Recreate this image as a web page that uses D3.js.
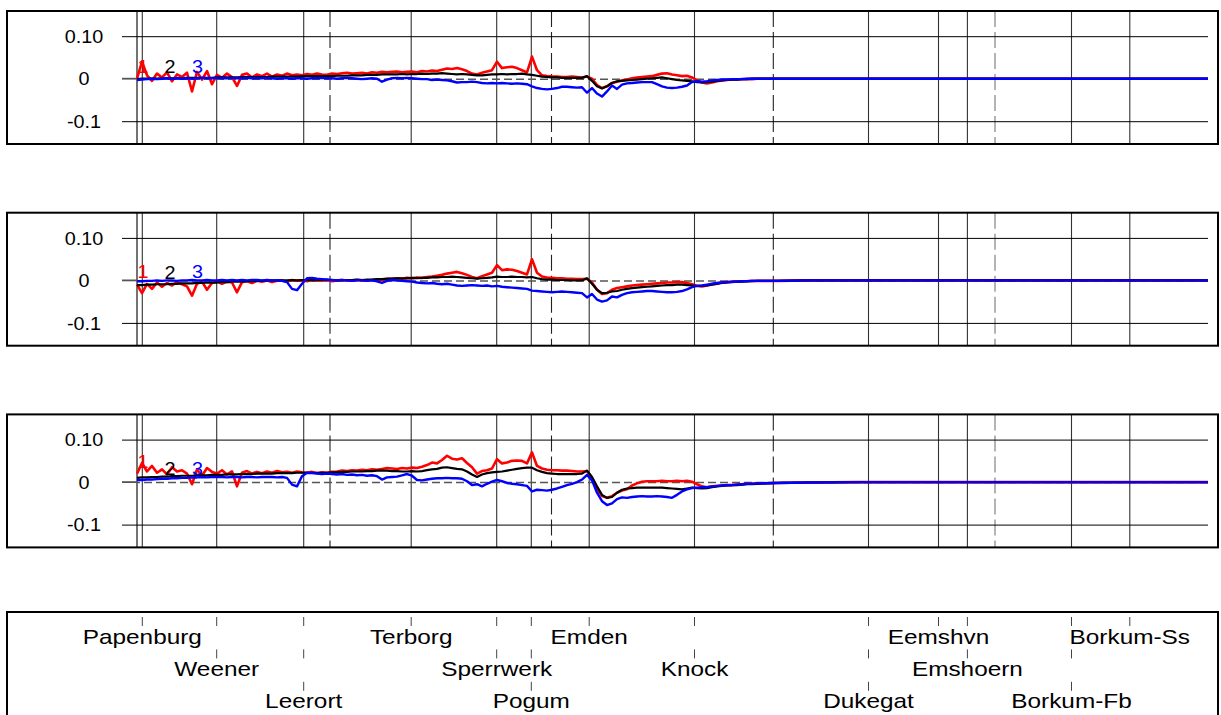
<!DOCTYPE html>
<html>
<head>
<meta charset="utf-8">
<script src="https://cdn.jsdelivr.net/npm/d3@7"></script>
<style>
  html, body { margin: 0; padding: 0; background: #fff; }
  svg { display: block; }
</style>
</head>
<body>
<svg id="chart" width="1221" height="715"></svg>
<script>
// Sample positions along the fairway (km): every 0.5 km up to km 62, coarser seaward
const km = d3.range(0, 62.01, 0.5).concat([64, 67, 72, 80, 90, 100, 107.1]);

// Station names, positions (km) and label row in the station strip
const stationNames = ["Papenburg", "Weener", "Leerort", "Terborg", "Sperrwerk", "Pogum", "Emden",
  "Knock", "Dukegat", "Eemshvn", "Emshoern", "Borkum-Fb", "Borkum-Ss"];
const stationKm = [0.53, 7.97, 16.67, 27.42, 35.97, 39.43, 45.22, 55.75, 73.15, 80.15, 83.04, 93.45, 99.28];
const stationRow = [0, 1, 2, 0, 1, 2, 0, 1, 2, 0, 1, 2, 0];

// Additional section boundaries (km), drawn dashed
const boundaryKm = [19.3, 41.45, 63.63, 85.8];

// Y axis ticks
const yTickValues = [0.1, 0, -0.1];
const yTickLabels = ["0.10", "0", "-0.1"];

// Series names
const seriesNames = ["1", "2", "3"];

// Values in thousandths, one entry per km sample
// Panel 1
const p1s1 = [
  0,40,8,-5,12,3,15,-6,10,4,14,-30,16,-2,18,-13,9,2,12,4,-17,9,12,3,10,
  6,12,5,10,7,12,8,10,8,11,9,12,10,9,12,11,13,14,12,13,14,12,15,14,16,
  15,16,17,15,16,17,15,18,17,19,18,21,24,23,25,22,18,12,10,14,17,20,40,25,27,
  28,25,20,15,52,20,8,6,5,5,4,4,5,4,3,5,0,-15,-22,-18,-10,-7,-4,-2,1,
  3,4,5,6,9,12,13,10,8,6,7,3,-4,-9,-11,-9,-6,-4,-3,-2,-2,-1,-1,-1,0,
  0,0,0,0,0,0,0];
const p1s2 = [
  -1,0,0,0,0,1,1,1,1,1,2,2,2,2,2,2,3,3,3,3,3,4,4,4,4,
  4,4,5,5,5,5,5,5,6,6,6,6,6,6,6,7,7,7,8,8,8,9,9,9,10,
  10,10,10,11,10,11,11,12,11,12,12,13,12,11,10,11,10,9,8,8,9,10,10,11,10,
  11,11,12,10,9,7,5,4,3,3,2,2,2,2,2,6,-5,-18,-23,-18,-10,-6,-5,-4,-3,
  -2,-1,0,1,2,3,1,-1,-3,-4,-5,-6,-8,-9,-8,-7,-5,-4,-3,-2,-2,-1,-1,0,0,
  0,0,0,0,0,0,0];
const p1s3 = [
  -3,-2,-1,0,-1,0,1,0,1,0,1,0,1,2,1,1,2,1,1,2,1,1,2,1,1,
  1,2,1,0,1,1,0,1,1,0,1,1,2,1,1,0,1,2,1,0,-1,0,1,0,-7,
  -2,1,2,1,2,1,0,-1,-1,-3,-2,-3,-4,-6,-9,-8,-8,-7,-8,-10,-11,-10,-11,-10,-11,
  -12,-11,-12,-13,-18,-22,-24,-25,-24,-22,-19,-19,-20,-21,-20,-33,-22,-35,-42,-30,-16,-24,-14,-11,-10,
  -9,-8,-8,-8,-13,-18,-21,-22,-21,-19,-16,-8,-6,-7,-6,-4,-3,-2,-2,-1,-1,-1,0,0,0,
  0,0,0,0,0,0,0];

// Panel 2
const p2s1 = [
  -10,-30,-8,-20,-5,-15,-6,-12,-4,-9,-14,-36,-8,-3,-22,-6,-2,-8,-3,-5,-28,-4,-2,-6,-1,
  -3,0,-4,-1,0,-3,1,-1,0,-2,1,0,-1,1,-2,0,1,-1,0,1,0,-1,1,2,1,
  3,4,5,4,6,5,7,6,8,9,11,13,16,18,20,17,13,8,5,10,14,18,36,24,26,
  25,22,18,14,50,18,9,7,6,5,5,4,4,3,3,4,-5,-22,-32,-30,-22,-18,-16,-14,-12,
  -11,-10,-9,-8,-7,-6,-5,-5,-4,-4,-6,-9,-13,-14,-12,-9,-7,-5,-4,-3,-3,-2,-2,-1,-1,
  -1,0,0,0,0,0,0];
const p2s2 = [
  -11,-11,-10,-10,-9,-9,-9,-8,-8,-7,-7,-7,-6,-6,-5,-5,-5,-4,-4,-3,-3,-3,-2,-2,-1,
  -1,0,0,0,0,0,1,0,1,1,0,1,1,1,1,0,1,1,1,2,1,2,2,3,3,
  4,4,5,5,5,6,5,6,6,7,7,8,8,9,8,7,6,5,4,5,6,7,9,8,8,
  9,8,8,7,8,5,3,2,2,1,1,1,0,0,0,5,-8,-22,-30,-29,-26,-25,-22,-20,-18,
  -17,-16,-15,-14,-13,-12,-11,-11,-10,-10,-11,-12,-13,-13,-12,-10,-8,-6,-5,-4,-3,-3,-2,-2,-1,
  -1,0,0,0,0,0,0];
const p2s3 = [
  -2,-2,-1,-1,0,-1,0,0,-1,0,0,1,0,0,1,0,0,1,0,1,0,1,0,1,1,
  0,1,0,0,-1,-4,-20,-23,-8,5,6,4,3,2,1,0,1,0,-1,0,0,-1,0,-2,-6,
  -1,1,0,-1,-2,-3,-5,-6,-7,-6,-8,-9,-8,-10,-12,-13,-12,-11,-12,-13,-12,-14,-13,-15,-16,
  -17,-18,-19,-20,-24,-25,-26,-27,-28,-27,-26,-27,-28,-29,-30,-40,-32,-45,-50,-47,-38,-40,-34,-30,-28,
  -27,-26,-25,-25,-26,-27,-28,-28,-27,-25,-21,-16,-13,-12,-10,-8,-6,-5,-4,-3,-3,-2,-2,-1,-1,
  -1,0,0,0,0,0,0];

// Panel 3
const p3s1 = [
  20,45,25,38,22,30,18,35,25,28,20,-5,30,15,33,24,20,28,18,25,-10,22,26,20,24,
  21,25,22,26,23,24,22,25,23,22,24,21,23,22,24,25,27,26,28,27,29,28,30,29,31,
  33,32,31,33,32,34,33,36,40,46,44,52,62,55,53,56,45,35,20,26,28,32,54,44,46,
  50,51,50,44,70,38,32,29,28,28,27,27,26,25,25,26,10,-15,-33,-37,-33,-25,-20,-17,-8,
  -3,1,2,2,2,3,2,2,3,2,3,1,-5,-10,-12,-10,-9,-8,-7,-7,-6,-5,-4,-4,-3,
  -2,-1,0,0,0,0,0];
const p3s2 = [
  10,11,11,12,12,13,13,14,14,15,15,15,16,16,16,17,17,17,18,18,18,19,19,19,20,
  20,20,20,21,21,21,21,22,22,22,22,22,22,22,23,23,24,24,25,25,25,26,26,27,27,
  27,26,26,25,25,26,25,26,28,30,31,34,35,33,31,30,25,18,12,18,21,23,24,25,27,
  29,31,33,34,34,28,24,21,20,19,19,19,19,19,20,27,12,-10,-30,-37,-35,-25,-18,-15,-14,
  -13,-13,-13,-13,-13,-13,-14,-15,-16,-17,-15,-13,-14,-15,-14,-12,-10,-9,-8,-7,-7,-6,-5,-5,-4,
  -2,-1,0,0,0,0,0];
const p3s3 = [
  5,5,6,6,7,8,8,9,9,10,10,11,11,12,11,12,12,12,11,12,12,11,12,12,11,
  12,12,12,11,12,10,-6,-10,14,22,21,20,19,20,19,18,19,17,18,16,17,15,16,14,6,
  11,12,13,16,19,15,5,4,6,8,9,9,10,9,9,8,2,-7,-5,-10,-4,1,5,2,-2,
  -4,-5,-7,-9,-22,-18,-19,-20,-18,-15,-11,-7,-4,0,6,17,4,-25,-45,-54,-50,-40,-36,-37,-35,
  -34,-33,-34,-34,-33,-34,-35,-37,-30,-22,-17,-14,-13,-12,-12,-10,-9,-8,-7,-7,-6,-5,-4,-4,-3,
  -2,-1,0,0,0,0,0];

// Series label anchors: km position and value (thousandths) per panel
const seriesLabelKm = [0.6, 3.3, 6.05];
const p1LabelVals = [28, 27, 28];
const p2LabelVals = [21, 17, 21];
const p3LabelVals = [48, 32, 32];

// ---------------------------------------------------------------
const FONT = '"Liberation Sans", Arial, Helvetica, sans-serif';
const seriesColors = ["#ff0000", "#000000", "#0000ff"];
const seriesWidths = [2.6, 2.2, 2.4];
const panels = [
  { series: [p1s1, p1s2, p1s3], labels: p1LabelVals },
  { series: [p2s1, p2s2, p2s3], labels: p2LabelVals },
  { series: [p3s1, p3s2, p3s3], labels: p3LabelVals }
];

const svg = d3.select("#chart");
const frameLeft = 7, frameRight = 1218;
const gridLeft = 122;
const x = d3.scaleLinear().domain([0, 107.1]).range([137, 1208]);
const plotRight = x.range()[1];

const panelH = 133;
const panelTop0 = 11, panelStep = 201.7;
const zeroFromTop = 67.7, tenthPx = 42.5;

panels.forEach((p, pi) => {
  const top = panelTop0 + pi * panelStep;
  const zeroY = top + zeroFromTop;
  const y = d3.scaleLinear().domain([-0.1, 0.1]).range([zeroY + tenthPx, zeroY - tenthPx]);
  const g = svg.append("g");

  // vertical lines: start of the section and each station
  g.selectAll("line.vs")
    .data([0].concat(stationKm))
    .join("line")
    .attr("class", "vs")
    .attr("x1", d => x(d)).attr("x2", d => x(d))
    .attr("y1", top).attr("y2", top + panelH)
    .attr("stroke", (d, i) => i === 0 ? "#000" : "#333")
    .attr("stroke-width", 1.1);

  // dashed section boundaries
  g.selectAll("line.vd")
    .data(boundaryKm)
    .join("line")
    .attr("class", "vd")
    .attr("x1", d => x(d)).attr("x2", d => x(d))
    .attr("y1", top).attr("y2", top + panelH)
    .attr("stroke", (d, i) => i === 3 ? "#777" : "#222")
    .attr("stroke-width", 1.1)
    .attr("stroke-dasharray", "16,5");

  // y axis with gridlines across the panel
  const axis = d3.axisLeft(y)
    .tickValues(yTickValues)
    .tickFormat((d, i) => yTickLabels[i])
    .tickSize(plotRight - gridLeft)
    .tickPadding(0);
  const ga = g.append("g")
    .attr("transform", `translate(${plotRight},0)`)
    .call(axis)
    .attr("font-family", FONT)
    .attr("font-size", 18);
  ga.select(".domain").remove();
  ga.selectAll(".tick line")
    .attr("stroke", d => d === 0 ? "#555" : "#000")
    .attr("stroke-width", d => d === 0 ? 1.5 : 1)
    .attr("x2", d => d === 0 ? x(0) - plotRight : -(plotRight - gridLeft))
    .attr("stroke-dasharray", d => d === 0 ? "8,4" : null);
  ga.selectAll(".tick text")
    .attr("x", null).attr("dy", null)
    .attr("fill", "#000")
    .attr("text-anchor", "middle")
    .attr("dominant-baseline", "central")
    .attr("transform", `translate(${84 - plotRight},0) scale(1.1,1)`);
  // solid stub of the zero line left of the section start
  g.append("line")
    .attr("x1", gridLeft).attr("x2", x(0))
    .attr("y1", y(0)).attr("y2", y(0))
    .attr("stroke", "#555").attr("stroke-width", 1.8);

  // series
  const line = d3.line().x((d, i) => x(km[i])).y(d => y(d / 1000));
  p.series.forEach((vals, si) => {
    g.append("path")
      .datum(vals)
      .attr("d", line)
      .attr("fill", "none")
      .attr("stroke", seriesColors[si])
      .attr("stroke-width", seriesWidths[si])
      .attr("stroke-linejoin", "round");
  });

  // series labels
  seriesNames.forEach((name, si) => {
    g.append("text")
      .attr("transform", `translate(${x(seriesLabelKm[si])},${y(p.labels[si] / 1000)}) scale(1.1,1)`)
      .attr("text-anchor", "middle")
      .attr("dominant-baseline", "central")
      .attr("font-family", FONT)
      .attr("font-size", 18)
      .attr("fill", seriesColors[si])
      .text(name);
  });

  // panel frame
  g.append("rect")
    .attr("x", frameLeft).attr("y", top)
    .attr("width", frameRight - frameLeft).attr("height", panelH)
    .attr("fill", "none").attr("stroke", "#000").attr("stroke-width", 2);
});

// station strip
const stripTop = 612;
const rowStep = 32.4;
const strip = svg.append("g");
strip.append("rect")
  .attr("x", frameLeft).attr("y", stripTop)
  .attr("width", frameRight - frameLeft).attr("height", 120)
  .attr("fill", "none").attr("stroke", "#000").attr("stroke-width", 2);

stationNames.forEach((name, i) => {
  const sx = x(stationKm[i]);
  for (let r = 0; r <= stationRow[i]; r++) {
    strip.append("line")
      .attr("x1", sx).attr("x2", sx)
      .attr("y1", stripTop + 5 + r * rowStep)
      .attr("y2", stripTop + 14 + r * rowStep)
      .attr("stroke", "#444").attr("stroke-width", 1);
  }
  strip.append("text")
    .attr("transform", `translate(${sx},${stripTop + 31.5 + stationRow[i] * rowStep}) scale(1.16,1)`)
    .attr("text-anchor", "middle")
    .attr("font-family", FONT)
    .attr("font-size", 21)
    .attr("fill", "#000")
    .text(name);
});
</script>
</body>
</html>
